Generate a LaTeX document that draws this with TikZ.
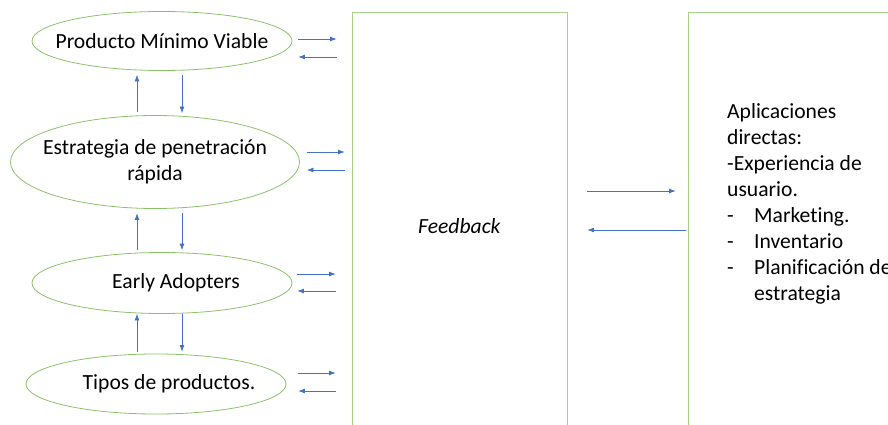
\documentclass[tikz,border=0pt]{standalone}
\usepackage{fontspec}
\setmainfont{Carlito}[Ligatures=NoCommon]
\usepackage{xcolor}
\usetikzlibrary{arrows.meta,shapes.geometric,calc}
\definecolor{ellgreen}{HTML}{8CC168}
\definecolor{boxgreen}{HTML}{A9D18E}
\definecolor{arrblue}{HTML}{4472C4}

\begin{document}
\begin{tikzpicture}[x=1pt,y=-1pt]
\tikzstyle{ell}=[ellipse,draw=ellgreen,line width=0.8pt,inner xsep=-20pt,inner ysep=0pt,text=black,align=center]
\tikzstyle{bx}=[rectangle,draw=boxgreen,line width=0.8pt,inner sep=0pt]
\tikzstyle{ar}=[-{Latex[length=6.5pt,width=5pt]},draw=arrblue,line width=0.7pt]
\useasboundingbox (0,0) rectangle (888,425);
\fontsize{21.6}{26}\selectfont

\node (1) at (162,41) [ell,minimum width=260pt,minimum height=59pt]{Producto Mínimo Viable};
\node (2) at (155,162) [ell,inner xsep=-14pt,minimum width=289pt,minimum height=93pt]{Estrategia de penetración\\rápida};
\node (3) at (162,283) [ell,minimum width=260pt,minimum height=61pt]{\hspace*{28pt}Early Adopters};
\node (4) at (156,384) [ell,minimum width=260pt,minimum height=60pt]{\hspace*{26pt}Tipos de productos.};

\node (fb) at (459.5,226) [bx,minimum width=215pt,minimum height=428pt]{\textit{Feedback}};
\node (ap) at (800,226) [bx,minimum width=224pt,minimum height=428pt]{};
\node (apt) at (727,204) [anchor=west,align=left,inner sep=0pt]{Aplicaciones\\directas:\\-Experiencia de\\usuario.\\\makebox[27pt][l]{-}Marketing.\\\makebox[27pt][l]{-}Inventario\\\makebox[27pt][l]{-}Planificación de\\\hspace*{27pt}estrategia};

\draw[ar] ($(2.north)+(-18,-3)$) -- ($(1.south)+(-25,4)$);
\draw[ar] ($(1.south)+(20,4)$) -- ($(2.north)+(27,-2)$);
\draw[ar] ($(3.north)+(-25,-2)$) -- ($(2.south)+(-18,4.5)$);
\draw[ar] ($(2.south)+(27,4.5)$) -- ($(3.north)+(20,-2)$);
\draw[ar] ($(4.north)+(-19,-2)$) -- ($(3.south)+(-25,0)$);
\draw[ar] ($(3.south)+(20,0)$) -- ($(4.north)+(26,-2)$);

\draw[ar] ($(1.east)+(6,-2)$) -- ($(1.east -| fb.west)+(-15,-2)$);
\draw[ar] ($(1.east -| fb.west)+(-15,16)$) -- ($(1.east)+(6,16)$);
\draw[ar] ($(2.east)+(7,-10)$) -- ($(2.east -| fb.west)+(-7,-10)$);
\draw[ar] ($(2.east -| fb.west)+(-7,8)$) -- ($(2.east)+(7,8)$);
\draw[ar] ($(3.east)+(5,-9)$) -- ($(3.east -| fb.west)+(-16,-9)$);
\draw[ar] ($(3.east -| fb.west)+(-16,8)$) -- ($(3.east)+(5,8)$);
\draw[ar] ($(4.east)+(12,-11)$) -- ($(4.east -| fb.west)+(-16,-11)$);
\draw[ar] ($(4.east -| fb.west)+(-16,7)$) -- ($(4.east)+(12,7)$);

\draw[ar] ($(fb.east)+(20,-35)$) -- ($(ap.west)+(-12,-35)$);
\draw[ar] ($(ap.west)+(-2,4)$) -- ($(fb.east)+(20,4)$);
\end{tikzpicture}
\end{document}
